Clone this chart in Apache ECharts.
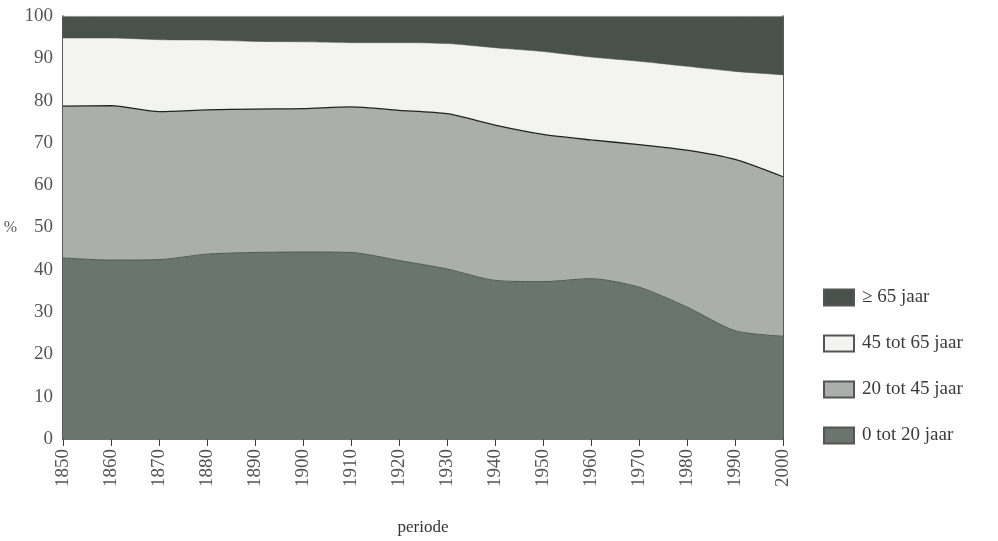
<!DOCTYPE html>
<html>
<head>
<meta charset="utf-8">
<script src="https://cdn.jsdelivr.net/npm/echarts@6/dist/echarts.min.js"></script>
<style>
  html, body { margin: 0; padding: 0; background: #fff; }
  #main { width: 998px; height: 541px; }
</style>
</head>
<body>
<div id="main"></div>
<script>
  var years = ['1850','1860','1870','1880','1890','1900','1910','1920','1930','1940','1950','1960','1970','1980','1990','2000'];
  // aandeel per leeftijdsgroep (%)
  var jong = [42.8,42.3,42.4,43.7,44.1,44.2,44.1,42.2,40.2,37.5,37.2,37.9,35.9,31.2,25.6,24.3];
  var midden = [35.9,36.5,35.0,34.1,33.9,33.9,34.4,35.5,36.7,36.7,34.8,32.8,33.7,37.1,40.5,37.7];
  var ouder = [16.1,16.0,17.0,16.5,16.0,15.8,15.2,16.0,16.6,18.3,19.6,19.6,19.7,19.8,20.8,24.1];
  var oud = [5.2,5.2,5.6,5.7,6.0,6.1,6.3,6.3,6.5,7.5,8.4,9.7,10.7,11.9,13.1,13.9];
  var namen = ['0 tot 20 jaar','20 tot 45 jaar','45 tot 65 jaar','\u2265 65 jaar'];
  var kleuren = ['#6b756f','#aaafab','#f3f4f2','#48514c'];

  var font = '"Liberation Serif", "DejaVu Serif", serif';
  var chart = echarts.init(document.getElementById('main'));

  function laag(i, data, lijn, dikte) {
    return {
      name: namen[i],
      type: 'line',
      stack: 'totaal',
      data: data,
      symbol: 'none',
      smooth: 0.25,
      lineStyle: { color: lijn, width: dikte },
      itemStyle: { color: kleuren[i], borderColor: '#555', borderWidth: 1 },
      areaStyle: { color: kleuren[i], opacity: 1 },
      z: 2
    };
  }

  var option = {
    animation: false,
    backgroundColor: '#fff',
    grid: { left: 63, right: 215, top: 16, bottom: 100 },
    legend: {
      data: [namen[3], namen[2], namen[1], namen[0]],
      orient: 'vertical',
      left: 818,
      top: 283,
      itemWidth: 30,
      itemHeight: 16,
      itemGap: 27,
      icon: 'rect',
      textStyle: { fontFamily: font, fontSize: 19, color: '#3a3a3a', padding: [0, 0, 0, 3] }
    },
    xAxis: {
      type: 'category',
      data: years,
      boundaryGap: false,
      name: 'periode',
      nameLocation: 'middle',
      nameGap: 80,
      nameTextStyle: { fontFamily: font, fontSize: 17, color: '#333' },
      axisLine: { lineStyle: { color: '#444', width: 1.5 } },
      axisTick: { show: true, length: 7, lineStyle: { color: '#444' } },
      axisLabel: { rotate: 90, interval: 0, margin: 10, fontFamily: font, fontSize: 19, color: '#555' },
      splitLine: { show: false }
    },
    yAxis: [{
      type: 'value',
      min: 0,
      max: 100,
      interval: 10,
      name: '%',
      nameLocation: 'middle',
      nameRotate: 0,
      nameGap: 46,
      nameTextStyle: { fontFamily: font, fontSize: 16, color: '#555' },
      axisLine: { show: true, lineStyle: { color: '#222', width: 1.5 } },
      axisTick: { show: false },
      axisLabel: { margin: 10, fontFamily: font, fontSize: 19, color: '#555' },
      splitLine: { show: false }
    }, {
      type: 'value',
      min: 0,
      max: 100,
      position: 'right',
      axisLine: { show: true, lineStyle: { color: '#222', width: 1.5 } },
      axisTick: { show: false },
      axisLabel: { show: false },
      splitLine: { show: false }
    }],
    series: [
      laag(0, jong, '#4f5752', 1),
      laag(1, midden, '#1e2420', 1.3),
      laag(2, ouder, '#48514c', 0.5),
      laag(3, oud, '#d8dbd8', 1)
    ]
  };
  chart.setOption(option);
</script>
</body>
</html>
